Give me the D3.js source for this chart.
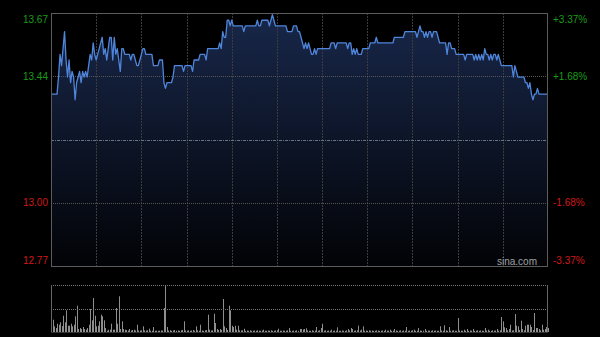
<!DOCTYPE html>
<html><head><meta charset="utf-8">
<script src="https://cdn.jsdelivr.net/npm/d3@7"></script>
<style>html,body{margin:0;padding:0;background:#000;overflow:hidden}</style>
</head><body><svg id="c" width="600" height="337"></svg>
<script>
// ---- data ----
const prevClose = 13.22;
const pctTicks = [3.37, 1.68, 0, -1.68, -3.37];
const priceTickLabels = ["13.67", "13.44", "", "13.00", "12.77"];
const pctTickLabels = ["+3.37%", "+1.68%", "", "-1.68%", "-3.37%"];
const sessionMinutes = 330;
const gridMinutes = [30, 60, 90, 120, 150, 180, 210, 240, 270, 300];
const prices = [
13.38,13.38,13.38,13.38,13.38,13.44,13.52,13.48,13.54,13.60,
13.50,13.44,13.50,13.42,13.46,13.44,13.36,13.42,13.44,13.46,
13.42,13.46,13.44,13.46,13.44,13.48,13.52,13.50,13.56,13.52,
13.50,13.52,13.54,13.56,13.58,13.52,13.54,13.50,13.54,13.58,
13.58,13.50,13.58,13.52,13.54,13.50,13.46,13.54,13.54,13.52,
13.52,13.52,13.52,13.50,13.52,13.52,13.50,13.48,13.48,13.50,
13.52,13.54,13.54,13.52,13.52,13.52,13.52,13.52,13.48,13.48,
13.48,13.48,13.50,13.50,13.50,13.42,13.40,13.42,13.42,13.42,
13.42,13.44,13.48,13.48,13.48,13.48,13.48,13.48,13.46,13.48,
13.48,13.48,13.48,13.48,13.46,13.50,13.50,13.50,13.50,13.52,
13.52,13.52,13.52,13.50,13.54,13.54,13.54,13.54,13.54,13.54,
13.54,13.54,13.56,13.54,13.60,13.58,13.58,13.64,13.64,13.62,
13.64,13.62,13.62,13.62,13.62,13.62,13.62,13.62,13.60,13.62,
13.62,13.62,13.62,13.62,13.62,13.62,13.62,13.64,13.62,13.62,
13.64,13.64,13.64,13.64,13.64,13.62,13.64,13.66,13.64,13.62,
13.62,13.62,13.62,13.62,13.62,13.62,13.62,13.60,13.60,13.60,
13.60,13.62,13.62,13.62,13.60,13.60,13.58,13.56,13.54,13.56,
13.54,13.56,13.54,13.52,13.52,13.54,13.52,13.54,13.54,13.54,
13.54,13.54,13.54,13.54,13.54,13.54,13.56,13.56,13.56,13.54,
13.56,13.56,13.56,13.56,13.56,13.56,13.56,13.54,13.56,13.56,
13.52,13.54,13.52,13.54,13.52,13.52,13.52,13.54,13.54,13.54,
13.54,13.54,13.56,13.56,13.56,13.56,13.58,13.56,13.56,13.56,
13.56,13.56,13.56,13.56,13.56,13.56,13.56,13.56,13.58,13.58,
13.58,13.58,13.58,13.58,13.58,13.60,13.60,13.60,13.60,13.60,
13.60,13.60,13.60,13.58,13.60,13.62,13.60,13.60,13.58,13.60,
13.58,13.60,13.60,13.58,13.60,13.60,13.60,13.58,13.56,13.56,
13.56,13.56,13.56,13.52,13.56,13.56,13.54,13.54,13.54,13.52,
13.52,13.52,13.52,13.52,13.52,13.50,13.52,13.52,13.52,13.52,
13.52,13.50,13.52,13.50,13.52,13.50,13.52,13.50,13.54,13.52,
13.52,13.50,13.52,13.50,13.52,13.52,13.50,13.52,13.50,13.48,
13.48,13.48,13.48,13.48,13.48,13.48,13.48,13.44,13.48,13.46,
13.44,13.44,13.44,13.44,13.44,13.42,13.42,13.40,13.42,13.38,
13.36,13.38,13.38,13.40,13.38,13.38,13.38,13.38,13.38,13.38,
13.38
];
const volumes = [
107,123,57,40,83,73,97,60,163,97,
217,63,63,83,57,73,157,263,30,40,
30,50,30,23,40,73,230,117,340,163,
57,63,107,173,157,117,40,13,23,23,
83,23,23,240,83,357,30,107,30,23,
20,15,30,15,20,23,15,73,15,15,
17,57,17,15,17,33,13,13,50,13,
13,13,13,15,15,240,470,50,15,18,
12,15,20,13,15,12,17,20,107,15,
13,17,12,15,20,13,57,17,13,73,
15,12,17,20,173,23,15,17,183,90,
30,20,30,20,330,57,40,20,263,217,
63,50,63,23,63,17,15,17,33,12,
15,13,17,12,13,15,12,17,13,12,
15,23,13,12,15,13,17,12,13,15,
17,33,13,12,15,13,12,17,40,13,
12,15,13,17,12,30,30,25,30,37,
15,13,12,17,13,15,50,13,17,40,
83,13,17,12,15,13,23,12,15,13,
47,12,13,15,13,12,17,30,15,40,
30,13,15,17,63,15,23,57,13,15,
12,17,13,15,12,13,17,15,12,13,
15,12,23,13,15,23,12,13,30,15,
12,13,17,12,15,13,50,12,15,13,
17,23,12,13,40,15,12,13,30,12,
15,13,12,17,13,15,12,13,57,15,
13,67,17,12,50,13,15,17,13,12,
140,15,13,12,23,13,30,12,15,13,
30,12,13,17,12,15,13,12,40,15,
23,13,12,17,13,15,30,13,17,150,
107,47,40,17,30,73,15,17,180,63,
57,20,113,30,17,63,73,73,73,50,
20,190,40,40,30,17,73,23,30,50,
40
];

// ---- layout ----
const L = 51, R = 548, T = 13, B = 266;
const VT = 285, VB = 332;
const svg = d3.select("#c");
const font = "Arial, 'Liberation Sans', sans-serif";

const x = d3.scaleLinear().domain([0, sessionMinutes]).range([L, R]);
const tickPrices = pctTicks.map(p => prevClose * (1 + p / 100));
const y = d3.scaleLinear().domain([d3.min(tickPrices), d3.max(tickPrices)]).range([B, T]);
const yv = d3.scaleLinear().domain([0, d3.max(volumes)]).range([VB, VT]);

const defs = svg.append("defs");
const grad = defs.append("linearGradient").attr("id", "g").attr("x1", 0).attr("y1", 0).attr("x2", 0).attr("y2", 1)
  .attr("gradientUnits", "userSpaceOnUse").attr("x1", 0).attr("y1", T).attr("x2", 0).attr("y2", B);
grad.append("stop").attr("offset", 0).attr("stop-color", "#18274a");
grad.append("stop").attr("offset", 1).attr("stop-color", "#020306");

// area
const area = d3.area().x((d, i) => x(i)).y0(B).y1(d => y(d));
svg.append("path").datum(prices).attr("d", area).attr("fill", "url(#g)");

// vertical grid
svg.append("g").selectAll("line").data(gridMinutes).join("line")
  .attr("x1", d => Math.round(x(d)) + 0.5).attr("x2", d => Math.round(x(d)) + 0.5)
  .attr("y1", T).attr("y2", B)
  .attr("stroke", "#3c3c3c").attr("stroke-dasharray", "2,1");

// horizontal grid
svg.append("g").selectAll("line").data(tickPrices.filter((d, i) => i === 1 || i === 3)).join("line")
  .attr("x1", L).attr("x2", R)
  .attr("y1", d => Math.round(y(d)) + 0.5).attr("y2", d => Math.round(y(d)) + 0.5)
  .attr("stroke", "#555").attr("stroke-dasharray", "1,1");
svg.append("line").attr("x1", L).attr("x2", R)
  .attr("y1", Math.round(y(prevClose)) + 0.5).attr("y2", Math.round(y(prevClose)) + 0.5)
  .attr("stroke", "#6a7282").attr("stroke-dasharray", "3,1,1,1");

// line
const line = d3.line().x((d, i) => x(i)).y(d => y(d));
svg.append("path").datum(prices).attr("d", line)
  .attr("fill", "none").attr("stroke", "#4f86dc").attr("stroke-width", 1.3).attr("stroke-linejoin", "round");

// border
svg.append("rect").attr("x", L + 0.5).attr("y", T + 0.5).attr("width", R - L - 1).attr("height", B - T)
  .attr("fill", "none").attr("stroke", "#5c5c5c");

// watermark
svg.append("text").attr("x", 537).attr("y", 265).attr("text-anchor", "end")
  .attr("font-family", font).attr("font-size", 10).attr("fill", "#a0a0a0").text("sina.com");

// axes
const colorFor = i => i < 2 ? "#1a9c1a" : "#d01818";
const dyFor = i => i === 0 ? "0.92em" : (i === 4 ? "-0.28em" : "0.32em");
const la = svg.append("g").attr("transform", `translate(${L},0)`)
  .call(d3.axisLeft(y).tickValues(tickPrices).tickSize(0).tickPadding(3).tickFormat((d, i) => priceTickLabels[i]));
la.select(".domain").remove();
la.selectAll("text").attr("fill", (d, i) => colorFor(i)).attr("dy", (d, i) => dyFor(i))
  .attr("font-family", font).attr("font-size", 10);
const ra = svg.append("g").attr("transform", `translate(${R},0)`)
  .call(d3.axisRight(y).tickValues(tickPrices).tickSize(0).tickPadding(5).tickFormat((d, i) => pctTickLabels[i]));
ra.select(".domain").remove();
ra.selectAll("text").attr("fill", (d, i) => colorFor(i)).attr("dy", (d, i) => dyFor(i))
  .attr("font-family", font).attr("font-size", 10);

// volume panel
svg.append("g").selectAll("rect").data(volumes).join("rect")
  .attr("x", (d, i) => Math.round(x(i))).attr("width", 1)
  .attr("y", d => yv(d)).attr("height", d => VB - yv(d))
  .attr("fill", "#8e8e8e");
svg.append("g").selectAll("line").data([d3.max(volumes), d3.max(volumes) / 2]).join("line")
  .attr("x1", L).attr("x2", R)
  .attr("y1", d => Math.round(yv(d)) + 0.5).attr("y2", d => Math.round(yv(d)) + 0.5)
  .attr("stroke", "#777").attr("stroke-dasharray", "1,1");
svg.append("line").attr("x1", L + 0.5).attr("x2", L + 0.5).attr("y1", VT).attr("y2", VB + 1).attr("stroke", "#666");
svg.append("line").attr("x1", R - 0.5).attr("x2", R - 0.5).attr("y1", VT).attr("y2", VB + 1).attr("stroke", "#666");
svg.append("line").attr("x1", L).attr("x2", R).attr("y1", VB + 0.5).attr("y2", VB + 0.5).attr("stroke", "#333");
</script>
</body></html>
